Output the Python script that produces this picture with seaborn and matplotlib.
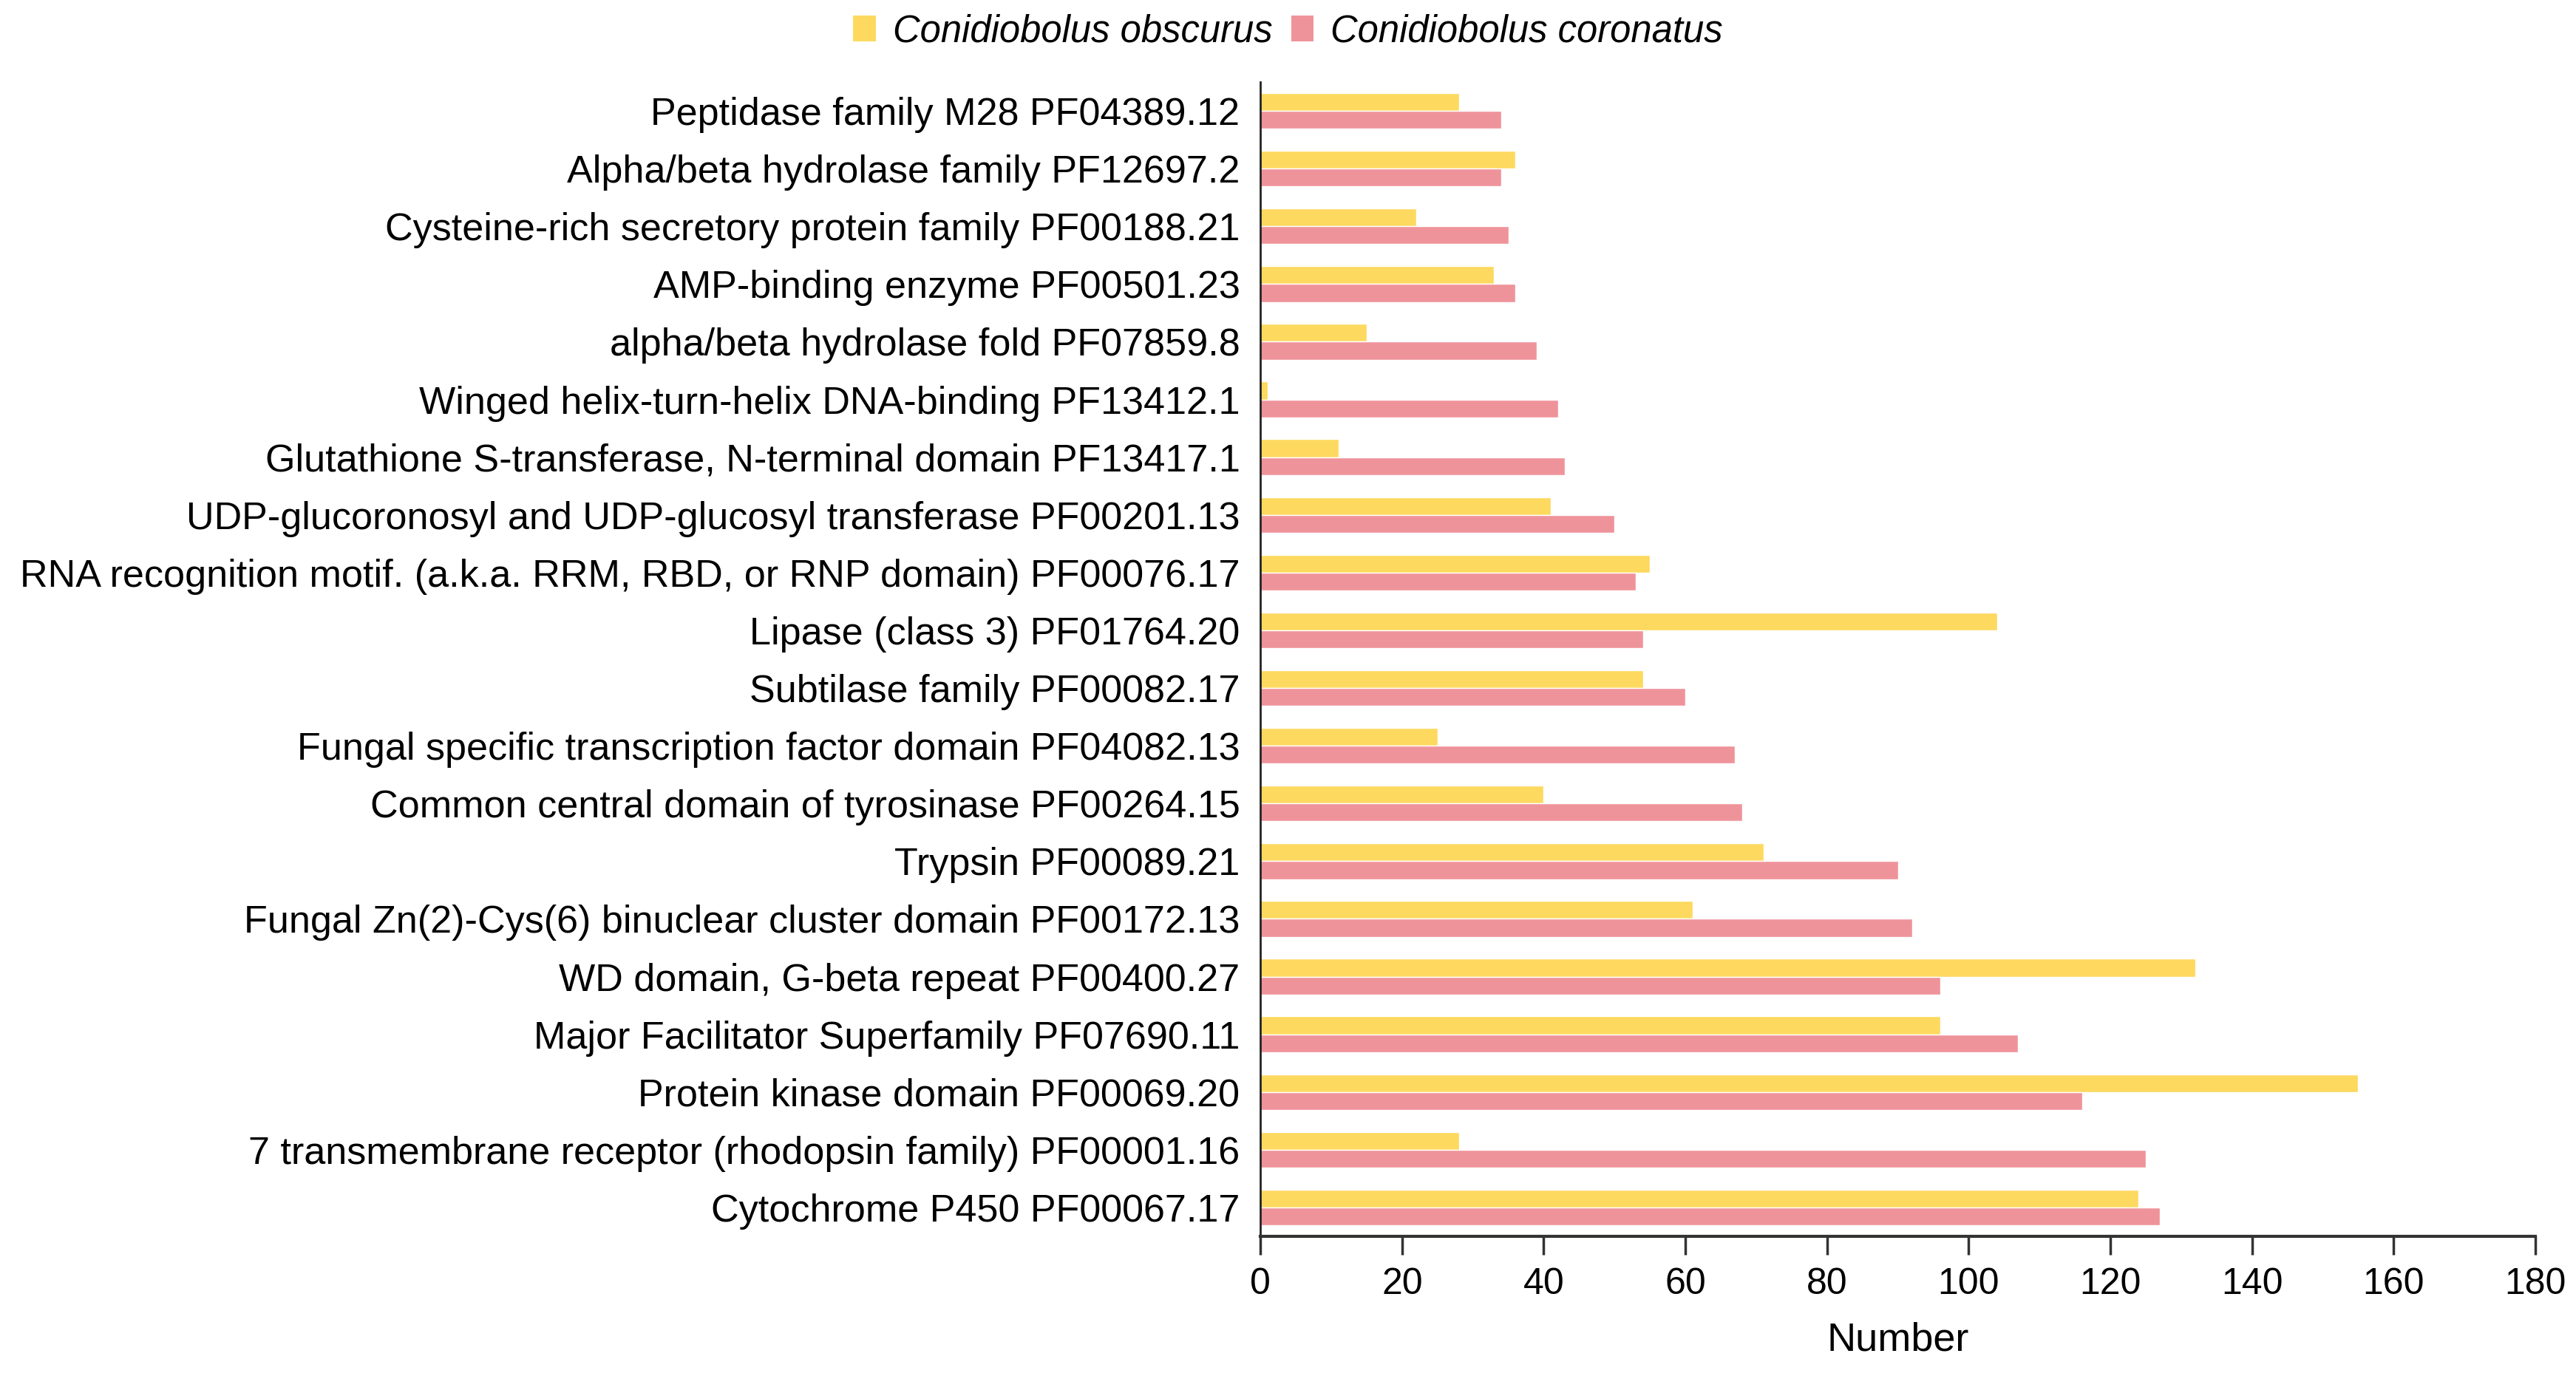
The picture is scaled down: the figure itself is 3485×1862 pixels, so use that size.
import matplotlib
matplotlib.use("Agg")
import matplotlib.pyplot as plt
import seaborn as sns
import pandas as pd
from matplotlib.patches import Patch

categories = [
    "Peptidase family M28 PF04389.12",
    "Alpha/beta hydrolase family PF12697.2",
    "Cysteine-rich secretory protein family PF00188.21",
    "AMP-binding enzyme PF00501.23",
    "alpha/beta hydrolase fold PF07859.8",
    "Winged helix-turn-helix DNA-binding PF13412.1",
    "Glutathione S-transferase, N-terminal domain PF13417.1",
    "UDP-glucoronosyl and UDP-glucosyl transferase PF00201.13",
    "RNA recognition motif. (a.k.a. RRM, RBD, or RNP domain) PF00076.17",
    "Lipase (class 3) PF01764.20",
    "Subtilase family PF00082.17",
    "Fungal specific transcription factor domain PF04082.13",
    "Common central domain of tyrosinase PF00264.15",
    "Trypsin PF00089.21",
    "Fungal Zn(2)-Cys(6) binuclear cluster domain PF00172.13",
    "WD domain, G-beta repeat PF00400.27",
    "Major Facilitator Superfamily PF07690.11",
    "Protein kinase domain PF00069.20",
    "7 transmembrane receptor (rhodopsin family) PF00001.16",
    "Cytochrome P450 PF00067.17",
]
obscurus = [28, 36, 22, 33, 15, 1, 11, 41, 55, 104, 54, 25, 40, 71, 61, 132, 96, 155, 28, 124]
coronatus = [34, 34, 35, 36, 39, 42, 43, 50, 53, 54, 60, 67, 68, 90, 92, 96, 107, 116, 125, 127]
species = ["Conidiobolus obscurus", "Conidiobolus coronatus"]
xticks = [0, 20, 40, 60, 80, 100, 120, 140, 160, 180]

df = pd.DataFrame({
    "category": categories * 2,
    "value": obscurus + coronatus,
    "species": [species[0]] * len(categories) + [species[1]] * len(categories),
})

sns.set_theme(style="white")
plt.rcParams["font.family"] = ["Liberation Sans", "DejaVu Sans"]
plt.rcParams["text.color"] = "black"
plt.rcParams["axes.labelcolor"] = "black"
plt.rcParams["xtick.color"] = "black"
plt.rcParams["ytick.color"] = "black"

fig = plt.figure(figsize=(34.85, 18.62), dpi=100)
ax = fig.add_axes([0.4893, 0.1015, 0.4949, 0.8389])

palette = {species[0]: "#FDD95F", species[1]: "#EF939B"}
sns.barplot(data=df, y="category", x="value", hue="species", order=categories,
            hue_order=species, palette=palette, width=0.62, orient="h",
            saturation=1, ax=ax, legend=False)

ax.set_xlim(0, 180)
ax.set_xticks(xticks)
ax.set_xticklabels([str(t) for t in xticks], fontsize=36)
ax.tick_params(axis="x", direction="out", length=18, width=2.5, color="#333333", pad=12, bottom=True)
ax.tick_params(axis="y", length=0, labelsize=37.5, pad=20)
ax.set_ylabel("")
ax.set_xlabel("Number", fontsize=39, labelpad=20)
for s in ["top", "right"]:
    ax.spines[s].set_visible(False)
ax.spines["left"].set_linewidth(2)
ax.spines["left"].set_color("#222222")
ax.spines["bottom"].set_linewidth(3)
ax.spines["bottom"].set_color("#333333")

handles = [Patch(facecolor=palette[s], edgecolor="none", label=s) for s in species]
fig.legend(handles=handles, loc="center", bbox_to_anchor=(0.5, 0.977), ncol=2,
           frameon=False, prop={"style": "italic", "size": 36.5},
           handlelength=0.6, handleheight=0.7, handletextpad=0.45, columnspacing=0.5)

fig.savefig("out.png", dpi=100)
